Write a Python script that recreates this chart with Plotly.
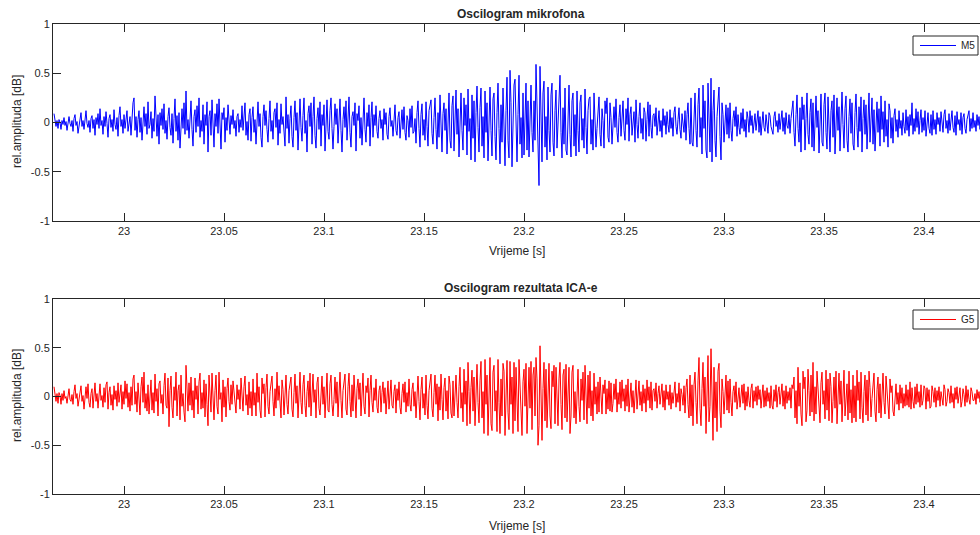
import numpy as np
import plotly.graph_objects as go

# Sampling of the displayed excerpt
t_start = 22.965      # s
t_step = 0.0005       # s

# Microphone signal M5, hundredths of rel. amplitude, one list per 20 ms
m5_00 = [9, 1, -4, 2, -6, 3, 0, -7, 2, -2, 5, -3, 1, -8, 3, 6, -1, -4, 2, -9,
         4, 8, -3, 1, -11, -2, 5, 10, -4, 2, -7, 3, 12, -1, -5, 2, -10, 4, 7, -6]
m5_01 = [3, -13, 5, -2, 9, -6, 14, -3, 2, -12, 6, -4, 11, -1, -15, 4, 8, -5, 3, -9,
         13, -2, -7, 5, -14, 7, 16, -4, 3, -11, 8, -6, 2, 12, -9, -3, 6, -13, 4, 20]
m5_02 = [25, -8, 6, -15, 3, 12, -10, 5, -18, 7, 16, -4, 9, -12, 21, -6, -2, 11, -16, 4,
         -9, 27, 3, -14, 8, -22, 10, -3, 14, -7, 19, -11, 2, -17, 6, 15, -5, -13, 9, -21]
m5_03 = [4, 24, -9, 7, -18, 10, -26, 5, 14, -6, 20, -12, 32, -8, 3, -16, 11, 22, -7, -24,
         6, 13, -10, 17, -4, 25, -15, 2, -9, 18, -22, 8, -3, 21, -30, 6, 12, -13, 23, -5]
m5_04 = [-25, 9, -4, 19, -11, 24, -6, -27, 10, 3, 15, -20, 5, -8, 18, -3, -12, 7, -2, 13,
         -6, 2, -14, 6, 9, -10, 3, -5, 17, -8, 4, 20, -13, 1, -18, 8, 14, -19, 5, 16]
m5_05 = [-10, 3, -22, 7, 21, -4, 9, -15, -25, 6, 18, -3, 12, -7, -20, 4, 22, -9, 2, -17,
         10, 14, -5, 20, -23, 3, -11, 19, -2, 6, -13, -24, 26, -6, 8, -21, 4, 17, -14, -25]
m5_06 = [5, 22, -8, 10, -28, 3, 24, -5, -19, 7, 25, -11, 2, -30, 9, 17, -4, 20, -22, 6,
         26, -13, -26, 4, 15, -7, 21, -24, 8, -3, 18, -29, 5, 23, -9, -17, 12, 25, -6, -27]
m5_07 = [-4, 19, -2, 14, -21, 7, 24, -8, -30, 3, 16, -5, 22, -18, 4, 26, -10, -25, 6, 11,
         -3, 20, -29, 9, 2, 17, -16, 5, -23, 13, 25, -7, -20, 10, -4, 18, -24, 5, 21, -15]
m5_08 = [8, -3, 17, -9, -16, 4, 12, -6, 3, -18, 14, -2, 10, -12, -17, 6, 15, -4, 2, -14,
         9, 18, -8, -13, 5, 11, -16, 3, 13, -7, 16, -10, -18, 7, 2, -15, 14, -5, 17, -11]
m5_09 = [-9, 4, -21, 10, 22, -6, -25, 8, 19, -13, 3, -18, 21, -4, -24, 12, 16, 23, -11, -22,
         5, 25, -7, -27, 10, -15, 28, -3, -30, 9, 20, -8, 14, -32, 6, 30, -18, -26, 17, 27]
m5_10 = [-29, 7, 33, -12, 14, -35, 5, 30, -8, -28, 25, -3, 18, -33, 34, -9, 4, -38, 28, -16,
         22, -40, 10, 37, -5, -30, 15, 35, -24, 6, -36, 32, -10, 20, -39, 12, 36, -8, -34, 24]
m5_11 = [30, -14, -38, 10, 40, -6, -42, 18, -20, 35, -8, -44, 12, 46, -18, -36, 53, 20, -45, -5,
         38, 44, -15, -40, 8, 48, -22, 5, -36, 30, -33, 15, 40, -28, 22, -35, 12, 38, -10, -30]
m5_12 = [22, -18, 59, 10, -35, -64, 57, -12, -40, 30, 42, -25, 6, -38, 36, -8, -30, 28, 40, -20,
         -34, 12, 33, -26, 5, 25, 48, -10, -36, 15, -22, 35, -28, -33, 10, 38, -12, -35, 22, 30]
m5_13 = [-24, 8, -34, 32, -8, -30, 20, 28, -18, 4, -26, 34, -5, -32, 12, 24, 26, -22, 3, -28,
         30, 8, -25, -6, 18, 26, -12, -24, 14, 2, -26, 22, 9, 25, -15, -20, 20, 5, -22, -8]
m5_14 = [16, -5, 24, -10, -20, 5, 18, -14, 3, 22, -8, -18, 14, -2, 25, -19, 8, 16, -13, -4,
         11, -20, 23, -2, -16, 6, 20, -11, 4, -17, 15, 10, -19, 3, 21, -14, 18, -5, -16, 7]
m5_15 = [9, -4, 15, -13, 4, 12, -9, 2, -15, 14, -3, 7, -12, 11, -2, -10, 13, -6, 5, -14,
         10, 16, -4, -12, 3, 15, -7, -16, 9, 2, -10, 12, -18, 8, 20, -6, -22, 25, -20, -24]
m5_16 = [10, 30, -8, -25, 18, 35, -15, 5, -32, 38, -6, 22, -28, -36, 40, -10, -30, 45, -40, 12,
         33, -18, -35, 6, 28, 36, -14, -38, 20, 8, -20, 3, 18, -12, 15, -16, 20, -8, -19, 4]
m5_17 = [12, -4, 16, -14, 8, -5, -12, 10, -6, 14, -9, 3, -15, 11, 4, -10, 12, -3, 7, -11,
         5, 9, -8, 2, 12, -10, 6, -13, 4, 11, -5, -9, 8, -2, -11, 10, 7, -4, -8, -12]
m5_18 = [6, 11, -4, 2, -10, 9, -7, 3, 12, -9, 5, -12, 10, -3, -6, 8, -11, 4, 14, 22,
         -10, -24, 8, 28, -6, -20, 15, -30, 26, 3, 18, -28, 4, 30, -12, -22, 10, 24, -25, 20]
m5_19 = [-29, 8, 27, -5, 12, -31, 5, 29, -20, -24, 18, 30, -10, -27, 26, -4, -30, 12, 22, -15,
         28, -32, 3, 25, -8, 16, -29, 9, 31, -2, -26, 14, 27, -18, -30, 6, 24, -11, 20, -22]
m5_20 = [-28, 10, 29, -5, -25, 16, -9, 26, -30, 4, 23, -12, 18, -27, 8, 30, -20, 3, 25, -22,
         13, -29, 6, 21, -10, 14, -24, 27, -7, 11, -20, 22, -14, 3, -25, 19, 12, -16, 5, -21]
m5_21 = [7, 14, -9, 3, -15, 12, -6, 2, -13, 10, -4, -11, 13, -8, 6, -14, 8, -3, 20, -12,
         4, -9, 14, -5, 11, -12, 2, 13, -10, 5, -8, 12, -14, 3, 10, -6, -11, 8, -13, 12]
m5_22 = [-7, 3, -12, 10, -2, 5, -9, 11, -4, -10, 8, 13, -6, 2, -11, 9, -8, 4, 12, -5,
         -10, 7, -13, 11, -2, 3, -8, 10, -12, 5, 9, -6, -11, 3, 8, 12, -9, 4, -6, 10]
m5_23 = [-5, 2, -9, 8, -3, 6, -7, 2]

# ICA result G5, hundredths of rel. amplitude, one list per 20 ms
g5_00 = [10, 2, -5, 3, -7, 4, 1, -8, 3, -4, 6, -2, 0, -7, 4, 8, -3, -5, 2, -8,
         5, 12, -2, 3, -10, -4, 6, 11, -5, 1, -13, 4, 10, -2, 13, -6, -11, 3, 8, -12]
g5_01 = [2, 14, -5, 3, -12, 7, 13, -4, 1, -11, 9, -6, 12, 15, -13, 4, 10, -9, 2, -14,
         11, -3, 6, -10, 14, -6, 3, 12, -13, 5, -8, 16, -2, 13, -11, 4, -15, 10, -9, 18]
g5_02 = [22, -8, 5, -16, 14, -4, -19, 10, 20, -6, 25, -12, 3, -15, 12, -18, 7, 17, -14, 4,
         -17, 23, -5, 8, -20, 13, 16, -7, 2, -18, 11, 24, -9, -12, 19, -31, 6, 21, -11, -22]
g5_03 = [10, -4, 25, -20, 6, 12, -24, 22, -10, 3, -16, -26, 32, 5, -15, 14, -9, 20, -14, 6,
         -22, 19, -3, 11, -18, 15, 24, -13, 4, -12, 17, -21, 13, -8, -30, 22, 7, -16, 24, -9]
g5_04 = [-24, 6, 22, -10, -18, 25, -3, 4, -26, 17, -11, 10, -21, 8, 19, -5, -14, 12, -8, 16,
         3, -10, -17, 12, -3, 7, -13, 19, -6, -15, 10, 21, -9, 2, -19, 15, -12, 5, -20, 18]
g5_05 = [-9, 4, -20, 24, -6, 10, -14, -22, 19, 3, 13, -21, 9, 23, -10, -18, 5, 15, 21, -5,
         -20, 8, -12, 25, -4, 11, -15, -22, 17, 7, -19, 10, 22, -8, -18, 6, 14, 20, -13, -21]
g5_06 = [4, 23, -7, 11, -22, 3, 25, -6, -18, 12, 22, -9, -21, 5, 16, -11, 24, -20, 2, 23,
         -6, 7, -22, 14, 20, -12, -19, 4, 21, -8, 10, -22, 9, 24, -14, -16, 13, 22, -8, -20]
g5_07 = [-3, 20, -7, 15, -21, 8, 25, -4, -22, 6, 15, 23, -13, -19, 10, 24, -5, -21, 12, -15,
         22, -7, -22, 8, 18, -3, 14, -20, 7, 24, -10, -18, 11, 4, 19, -21, 6, 22, -6, -16]
g5_08 = [9, -4, 18, -11, -17, 6, 11, -16, 4, 15, -7, 9, -18, 6, 16, -13, 3, 17, -9, -12,
         5, 12, -17, 8, -4, 15, -11, -18, 3, 13, -6, 15, -16, 4, -10, 18, -8, -15, 7, 14]
g5_09 = [-10, 5, -22, 9, 21, -5, -24, 7, 20, -12, 3, -19, 22, -9, -23, 6, 17, 23, -12, -21,
         4, 22, -8, 13, -25, 10, -14, 23, -3, -24, 9, 19, -15, 6, -23, 21, 12, -17, -22, 16]
g5_10 = [-20, 8, 22, -6, -22, 10, 30, -12, 4, -26, 28, -8, 16, -30, 35, 5, -28, 9, 27, -15,
         20, -30, 12, 33, -6, -27, 16, 36, -22, 5, -38, 38, -8, 22, -40, 12, 40, -28, -35, 25]
g5_11 = [32, -15, 6, -36, 38, -6, -38, 18, -20, 34, 26, -40, 12, 37, -16, -34, 36, -8, 20, -38,
         35, -25, 30, -15, -36, 38, 8, -22, -40, 15, 28, -10, 34, -38, 10, 30, -12, 36, -34, 22]
g5_12 = [30, -20, 40, 18, -50, -30, 52, 15, -45, 8, 35, -25, 28, -32, 6, 34, -20, -33, 26, 10,
         32, -28, 30, -12, -30, 18, 35, -8, -34, 22, 28, -22, 33, -26, 12, 30, -38, -20, 25, 32]
g5_13 = [-22, 5, -28, 15, 28, -10, -26, 18, -4, 25, -24, 32, -6, -28, 22, -12, 26, -20, 6, -25,
         24, -8, 10, -18, 15, -16, 20, -10, -18, 12, 3, 17, -18, 8, -13, 16, -15, 14, -16, -7]
g5_14 = [13, -3, 18, -16, 4, -8, 15, -12, 17, -5, 8, -15, 12, -10, 18, -16, 3, 14, -11, 6,
         -17, 9, 17, -13, 2, 16, -9, 5, -15, 12, -7, 8, -16, 17, -4, 10, -12, 15, -14, 6]
g5_15 = [8, -5, 14, -12, 3, 11, -8, 2, 13, -11, 6, -14, 12, -3, 5, -9, 12, -13, 4, -7,
         9, 15, -11, 3, -6, 14, -15, 8, 2, -9, 11, -17, 9, 18, -8, -22, 22, -20, 12, -30]
g5_16 = [12, 25, -6, -28, 16, 40, -12, -30, 8, 35, -10, 20, -38, 12, 42, -26, -10, 49, -20, -45,
         30, -22, 15, -36, 26, 34, -15, -32, 18, 5, -18, 9, 22, -14, 16, -17, 18, -6, -20, 5]
g5_17 = [11, -6, 15, -13, 2, 9, -11, 4, 12, -7, 13, -14, 5, -10, 10, -4, -11, 8, 13, -12,
         6, -5, 10, -9, 11, -3, 7, -12, 5, 12, -11, 6, -10, 9, -5, 4, -12, 11, -9, -13]
g5_18 = [7, -5, 12, -11, 4, 10, -8, 3, 13, -10, 6, -13, 11, -7, 5, -4, 9, -12, 12, 8,
         20, -22, 6, -28, 30, -10, 14, -18, -30, 26, 8, 20, -26, -14, 28, 6, -20, 22, -16, 35]
g5_19 = [-25, 10, -18, 26, 4, -20, -27, 14, 25, -8, 6, -23, 27, -14, 18, -25, 24, 10, -27, -5,
         20, -12, 26, -28, 4, 24, -8, 16, -26, 9, 27, -20, -3, 13, -24, 26, -17, 7, -27, 22]
g5_20 = [-22, 11, -26, 27, -4, 15, -23, 25, -11, -27, 5, 22, -19, 17, -25, 26, 9, -21, -2, 12,
         24, -15, -26, 7, 20, -17, 13, -22, 10, 24, -6, -18, 21, 8, -13, -23, 18, 4, 11, -15]
g5_21 = [-20, 6, 13, -8, 4, -14, 12, -7, 9, -12, 3, -10, 12, -9, 7, -11, 15, -13, 9, -5,
         -12, 10, -8, 13, -6, 5, -11, 12, -9, -4, 11, 8, -13, 9, -5, 7, -12, -10, 11, 5]
g5_22 = [-6, 9, -11, 6, -4, 10, -10, 5, -3, -9, 12, 7, -10, -5, 8, 4, -7, 11, -6, 3,
         -12, 9, -3, 10, -7, 4, 9, -11, -5, 8, 2, -10, 11, -6, 7, -3, -8, 9, 5, -4]
g5_23 = [-4, 3, -8, 7, -2, 5, -6, 1]

x_tick_vals = [23.0, 23.05, 23.1, 23.15, 23.2, 23.25, 23.3, 23.35, 23.4]
x_tick_text = ["23", "23.05", "23.1", "23.15", "23.2", "23.25", "23.3", "23.35", "23.4"]
y_tick_vals = [-1, -0.5, 0, 0.5, 1]
y_tick_text = ["-1", "-0.5", "0", "0.5", "1"]
series_names = ["M5", "G5"]
series_colors = ["#0000ff", "#ff0000"]

m5_blocks = [m5_00, m5_01, m5_02, m5_03, m5_04, m5_05, m5_06, m5_07, m5_08, m5_09, m5_10, m5_11,
             m5_12, m5_13, m5_14, m5_15, m5_16, m5_17, m5_18, m5_19, m5_20, m5_21, m5_22, m5_23]
g5_blocks = [g5_00, g5_01, g5_02, g5_03, g5_04, g5_05, g5_06, g5_07, g5_08, g5_09, g5_10, g5_11,
             g5_12, g5_13, g5_14, g5_15, g5_16, g5_17, g5_18, g5_19, g5_20, g5_21, g5_22, g5_23]
mic = np.concatenate([np.array(b, dtype=float) for b in m5_blocks]) / 100.0
ica = np.concatenate([np.array(b, dtype=float) for b in g5_blocks]) / 100.0
t_mic = t_start + t_step * np.arange(len(mic))
t_ica = t_start + t_step * np.arange(len(ica))

FONT = "Liberation Sans, Arial, Helvetica, sans-serif"
AX = "#262626"
W, H = 980, 535

fig = go.Figure()
fig.add_trace(go.Scatter(x=t_mic, y=mic, mode="lines", name=series_names[0], showlegend=False,
                         line=dict(color=series_colors[0], width=1), xaxis="x", yaxis="y"))
fig.add_trace(go.Scatter(x=t_ica, y=ica, mode="lines", name=series_names[1], showlegend=False,
                         line=dict(color=series_colors[1], width=1), xaxis="x2", yaxis="y2"))

def ydom(top_px, bot_px):
    return [1 - bot_px / H, 1 - top_px / H]

xcommon = dict(range=[22.9645, 23.428], tickvals=x_tick_vals, ticktext=x_tick_text,
               ticks="inside", ticklen=8, tickcolor=AX, showline=True, linecolor=AX, linewidth=1,
               mirror="ticks", showgrid=False, zeroline=False,
               tickfont=dict(family=FONT, size=11, color=AX), domain=[53 / W, 1.0])
ycommon = dict(range=[-1, 1], tickvals=y_tick_vals, ticktext=y_tick_text,
               ticks="inside", ticklen=8, tickcolor=AX, showline=True, linecolor=AX, linewidth=1,
               mirror=False, showgrid=False, zeroline=False,
               tickfont=dict(family=FONT, size=11, color=AX))

fig.update_layout(
    autosize=True,
    margin=dict(l=0, r=0, t=0, b=0, autoexpand=False),
    paper_bgcolor="white", plot_bgcolor="white",
    xaxis=dict(xcommon, anchor="y"),
    yaxis=dict(ycommon, anchor="x", domain=ydom(24, 221)),
    xaxis2=dict(xcommon, anchor="y2"),
    yaxis2=dict(ycommon, anchor="x2", domain=ydom(299, 494)),
    showlegend=False,
)

# MATLAB-style legend boxes: frame, coloured line sample and series name
for (top, bot), name, color in zip([(36, 55), (310, 329)], series_names, series_colors):
    mid = (top + bot) / 2
    fig.add_shape(type="rect", xref="paper", yref="paper",
                  x0=913 / W, x1=978 / W, y0=1 - bot / H, y1=1 - top / H,
                  fillcolor="white", line=dict(color=AX, width=1), layer="above")
    fig.add_shape(type="line", xref="paper", yref="paper",
                  x0=920 / W, x1=956 / W, y0=1 - mid / H, y1=1 - mid / H,
                  line=dict(color=color, width=1), layer="above")
    fig.add_annotation(xref="paper", yref="paper", x=959 / W, y=1 - mid / H, text=name,
                       showarrow=False, xanchor="left", yanchor="middle",
                       font=dict(family=FONT, size=10, color=AX))

ann = [
    dict(text="<b>Oscilogram mikrofona</b>", x=521 / W, y=1 - 14 / H, size=12),
    dict(text="<b>Oscilogram rezultata ICA-e</b>", x=521 / W, y=1 - 288 / H, size=12),
    dict(text="Vrijeme [s]", x=517 / W, y=1 - 251 / H, size=12),
    dict(text="Vrijeme [s]", x=517 / W, y=1 - 526 / H, size=12),
]
for a in ann:
    fig.add_annotation(xref="paper", yref="paper", x=a["x"], y=a["y"], text=a["text"],
                       showarrow=False, xanchor="center", yanchor="middle",
                       font=dict(family=FONT, size=a["size"], color=AX))
for yc in [122, 396]:
    fig.add_annotation(xref="paper", yref="paper", x=17 / W, y=1 - yc / H, text="rel.amplituda [dB]",
                       textangle=-90, showarrow=False, xanchor="center", yanchor="middle",
                       font=dict(family=FONT, size=12, color=AX))

post = ("var s=document.createElement('style');"
        "s.textContent='html,body{margin:0;padding:0;overflow:hidden;}';"
        "document.head.appendChild(s);")

fig.write_html("out.html", default_width="100vw", default_height="100vh",
               config={"displayModeBar": False, "responsive": False},
               post_script=post)
